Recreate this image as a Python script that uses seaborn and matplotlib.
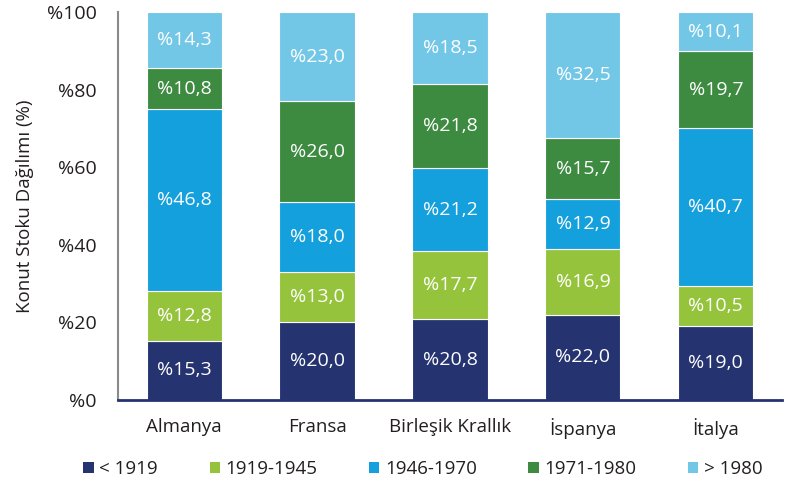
import numpy as np
import pandas as pd
import matplotlib
matplotlib.use("Agg")
import matplotlib.pyplot as plt
import seaborn as sns
from matplotlib.patches import Patch

countries = ["Almanya", "Fransa", "Birleşik Krallık", "İspanya", "İtalya"]
periods = ["< 1919", "1919-1945", "1946-1970", "1971-1980", "> 1980"]
pre_1919 = [15.3, 20.0, 20.8, 22.0, 19.0]
p_1919_1945 = [12.8, 13.0, 17.7, 16.9, 10.5]
p_1946_1970 = [46.8, 18.0, 21.2, 12.9, 40.7]
p_1971_1980 = [10.8, 26.0, 21.8, 15.7, 19.7]
post_1980 = [14.3, 23.0, 18.5, 32.5, 10.1]
colors = ["#253370", "#95c43c", "#14a0dc", "#3d8b41", "#72c7e7"]

sns.set_style("white")
plt.rcParams["font.family"] = ["Open Sans", "DejaVu Sans"]

fig = plt.figure(figsize=(7.95, 4.86), dpi=100)
ax = fig.add_axes([0.148, 0.177, 0.836, 0.798])

series = [pre_1919, p_1919_1945, p_1946_1970, p_1971_1980, post_1980]
bottom = np.zeros(len(countries))
for name, vals, col in zip(periods, series, colors):
    df = pd.DataFrame({"country": countries, "value": vals})
    sns.barplot(data=df, x="country", y="value", ax=ax, color=col,
                bottom=bottom, width=0.565, edgecolor="white", linewidth=0.8,
                saturation=1)
    for i, v in enumerate(vals):
        ax.text(i, bottom[i] + v / 2, f"%{v:.1f}".replace(".", ","),
                ha="center", va="center", color="white", fontsize=14)
    bottom = bottom + np.array(vals)

ax.set_xlim(-0.5, 4.5)
ax.set_ylim(0, 100)
ax.set_yticks([0, 20, 40, 60, 80, 100])
ax.set_yticklabels([f"%{t}" for t in [0, 20, 40, 60, 80, 100]])
ax.set_xlabel("")
ax.set_ylabel("Konut Stoku Dağılımı (%)", fontsize=13.5, labelpad=9, color="#231f20")
ax.tick_params(axis="y", length=0, pad=15, labelsize=14, labelcolor="#231f20")
ax.tick_params(axis="x", length=0, pad=13, labelsize=13.5, labelcolor="#231f20")
for s in ["top", "right"]:
    ax.spines[s].set_visible(False)
ax.spines["left"].set_color("#8a8a8a")
ax.spines["left"].set_linewidth(1.5)
ax.spines["bottom"].set_color("#253370")
ax.spines["bottom"].set_linewidth(2)

handles = [Patch(facecolor=c, edgecolor="none", label=p) for p, c in zip(periods, colors)]
fig.legend(handles=handles, loc="center", bbox_to_anchor=(0.532, 0.035), ncol=5,
           frameon=False, fontsize=13.5, handlelength=0.55, handleheight=0.55,
           handletextpad=0.3, columnspacing=2.75, labelcolor="#231f20")

fig.savefig("out.png", dpi=100)
